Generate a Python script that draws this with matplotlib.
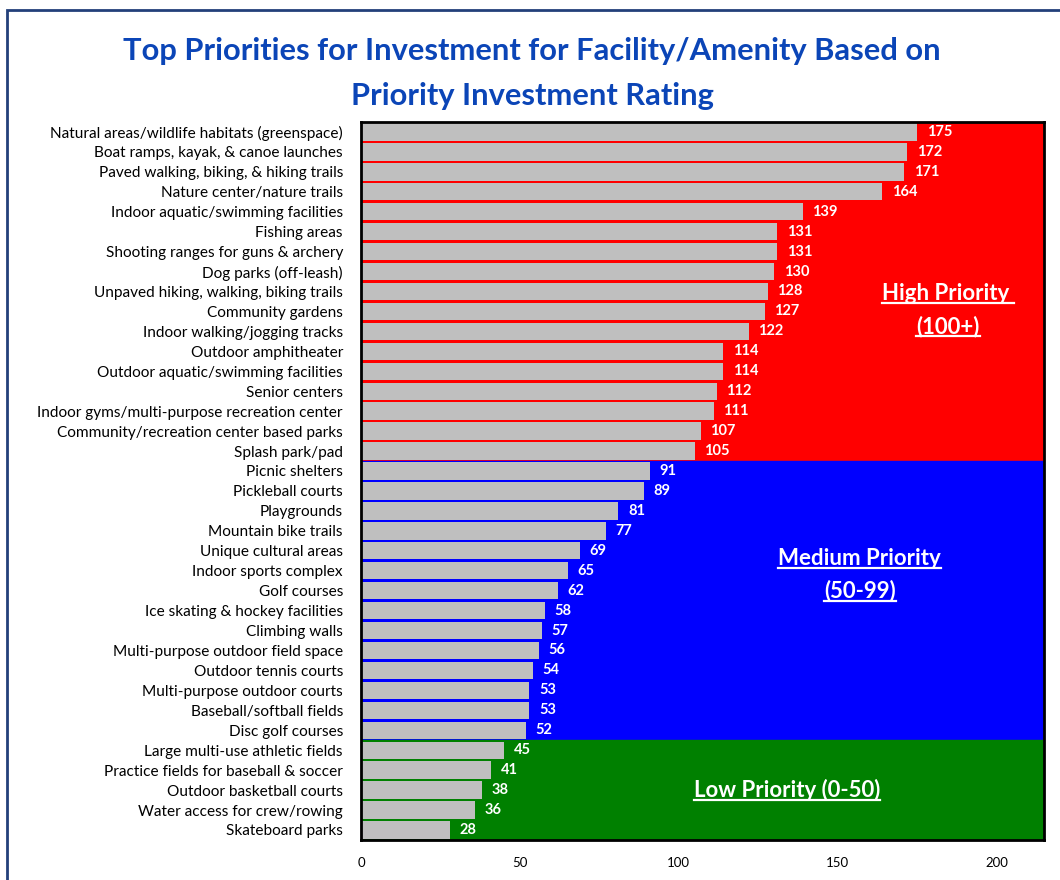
import numpy as np
import matplotlib
matplotlib.use('Agg')
import matplotlib.pyplot as plt
from matplotlib.patches import Rectangle
from matplotlib.lines import Line2D

plt.rcParams['font.family'] = ['Lato', 'DejaVu Sans']

# facility/amenity names, top to bottom, and their priority investment rating
facilities = [
    'Natural areas/wildlife habitats (greenspace)',
    'Boat ramps, kayak, & canoe launches',
    'Paved walking, biking, & hiking trails',
    'Nature center/nature trails',
    'Indoor aquatic/swimming facilities',
    'Fishing areas',
    'Shooting ranges for guns & archery',
    'Dog parks (off-leash)',
    'Unpaved hiking, walking, biking trails',
    'Community gardens',
    'Indoor walking/jogging tracks',
    'Outdoor amphitheater',
    'Outdoor aquatic/swimming facilities',
    'Senior centers',
    'Indoor gyms/multi-purpose recreation center',
    'Community/recreation center based parks',
    'Splash park/pad',
    'Picnic shelters',
    'Pickleball courts',
    'Playgrounds',
    'Mountain bike trails',
    'Unique cultural areas',
    'Indoor sports complex',
    'Golf courses',
    'Ice skating & hockey facilities',
    'Climbing walls',
    'Multi-purpose outdoor field space',
    'Outdoor tennis courts',
    'Multi-purpose outdoor courts',
    'Baseball/softball fields',
    'Disc golf courses',
    'Large multi-use athletic fields',
    'Practice fields for baseball & soccer',
    'Outdoor basketball courts',
    'Water access for crew/rowing',
    'Skateboard parks',
]
ratings = [175, 172, 171, 164, 139, 131, 131, 130, 128, 127, 122, 114, 114,
           112, 111, 107, 105, 91, 89, 81, 77, 69, 65, 62, 58, 57, 56, 54,
           53, 53, 52, 45, 41, 38, 36, 28]
xticks = [0, 50, 100, 150, 200]

title = 'Top Priorities for Investment for Facility/Amenity Based on\nPriority Investment Rating'

ratings = np.array(ratings)
ypos = np.arange(len(facilities))
n_high = int(np.sum(ratings >= 100))
n_med = int(np.sum((ratings >= 50) & (ratings < 100)))

fig = plt.figure(figsize=(10.6, 8.8), dpi=100)
ax = fig.add_axes([0.3406, 0.0455, 0.6444, 0.8159])

# background bands for the three priority groups
ax.axhspan(-0.5, n_high - 0.5, color='#FF0000', zorder=0)
ax.axhspan(n_high - 0.5, n_high + n_med - 0.5, color='#0000FF', zorder=0)
ax.axhspan(n_high + n_med - 0.5, len(facilities) - 0.5, color='#008000', zorder=0)

ax.barh(ypos, ratings, height=0.87, color='#BFBFBF', zorder=2)
for y, v in zip(ypos, ratings):
    ax.text(v + 3, y, str(v), color='white', fontsize=10.5, fontweight='bold',
            va='center', ha='left', zorder=3)

ax.set_xlim(0, 215)
ax.set_ylim(len(facilities) - 0.5, -0.5)
ax.set_yticks(ypos)
ax.set_yticklabels(facilities, fontsize=11.1)
ax.set_xticks(xticks)
ax.set_xticklabels([str(t) for t in xticks], fontsize=9.5)
ax.tick_params(axis='both', length=0)
ax.tick_params(axis='y', pad=13)
ax.tick_params(axis='x', pad=12)
for s in ax.spines.values():
    s.set_linewidth(2)
    s.set_color('black')
    s.set_zorder(4)

# group labels (underlined)
labels = [
    (184.8, 8.1, 'High Priority '),
    (184.8, 9.75, '(100+)'),
    (157, 21.4, 'Medium Priority'),
    (157, 23.0, '(50-99)'),
    (134, 33.0, 'Low Priority (0-50)'),
]
txts = []
for x, y, s in labels:
    t = ax.text(x, y, s, color='white', fontsize=16, fontweight='bold',
                ha='center', va='center', zorder=5)
    txts.append(t)

fig.suptitle(title, x=0.502, y=0.958, fontsize=22.2, fontweight='bold',
             color='#0B45B7', linespacing=1.74)

# outer frame of the chart area
fig.patches.append(Rectangle((6.5 / 1060, -0.1), 1.2, 0.1 + 1 - 10.5 / 880,
                             transform=fig.transFigure, fill=False,
                             edgecolor='#23407A', linewidth=2, clip_on=False))

fig.canvas.draw()
r = fig.canvas.get_renderer()
for t in txts:
    bb = t.get_window_extent(r)
    yline = bb.y0 + 1
    fig.lines.append(Line2D([bb.x0 / 1060, bb.x1 / 1060], [yline / 880, yline / 880],
                            transform=fig.transFigure, color='white', linewidth=1.6,
                            zorder=6))

fig.savefig('out.png', dpi=100)
